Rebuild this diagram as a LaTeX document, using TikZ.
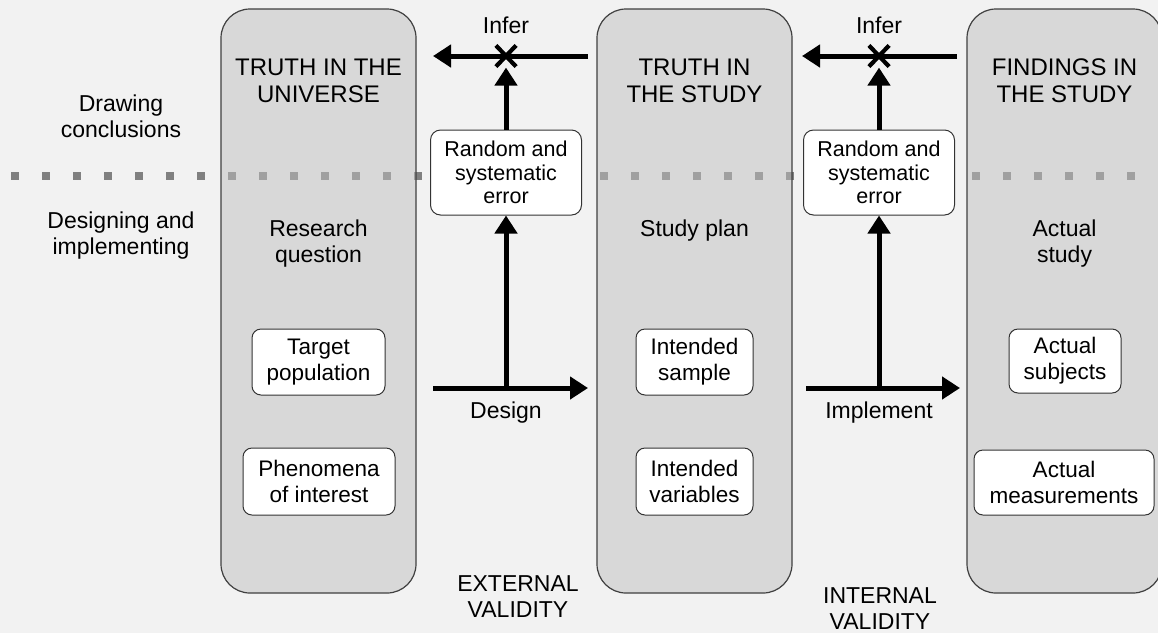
\documentclass[tikz,border=0pt]{standalone}
\usepackage{fontspec}
\setmainfont{Liberation Sans}
\usetikzlibrary{arrows.meta,shapes.misc}
\definecolor{bg}{HTML}{F2F2F2}
\definecolor{colfill}{HTML}{C0C0C0}
\definecolor{coledge}{HTML}{404040}
\definecolor{boxedge}{HTML}{333333}
\definecolor{dotc}{HTML}{808080}
\begin{document}
\begin{tikzpicture}[x=1pt,y=-1pt,
  col/.style={draw=coledge, line width=1.2pt, fill=colfill, fill opacity=0.5, draw opacity=1,
    rounded corners=29pt, minimum width=195pt, minimum height=584pt, inner sep=0pt},
  hdr/.style={font=\fontsize{24}{27}\selectfont, align=center, inner sep=0pt},
  lbl/.style={font=\fontsize{23}{26}\selectfont, align=center, inner sep=0pt},
  ibox/.style={draw=boxedge, line width=1pt, fill=white, rounded corners=9pt, align=center,
    font=\fontsize{22.5}{26}\selectfont, inner sep=0pt},
  ebox/.style={draw=boxedge, line width=1pt, fill=white, rounded corners=10pt, align=center,
    font=\fontsize{21.5}{23.5}\selectfont, inner sep=0pt, minimum width=151pt, minimum height=85pt},
  arr/.style={line width=5pt, -{Triangle[length=18pt,width=22pt]}},
  xmark/.style={cross out, draw, line width=4.2pt, minimum width=16pt, minimum height=17pt, inner sep=0pt}
]
\useasboundingbox (0,0) rectangle (1158,633);
\fill[bg] (0,0) rectangle (1158,633);
\begin{scope}
\clip (0,0) rectangle (1158,633);
% dotted divider
\coordinate (dl) at (11,176);
\coordinate (dr) at (1158,176);
\draw[dotc, line width=8pt, dash pattern=on 8pt off 23pt] (dl) -- (dr);
% columns
\node[col] (c1) at (318.5,301) {};
\node[col] (c2) at (694.5,301) {};
\node[col] (c3) at (1064.5,301) {};
\end{scope}
% headers
\node[hdr] (h1) at (318.5,81) {TRUTH IN THE\\UNIVERSE};
\node[hdr] (h2) at (694.5,81) {TRUTH IN\\THE STUDY};
\node[hdr] (h3) at (1064.5,81) {FINDINGS IN\\THE STUDY};
% side labels
\node[lbl] (dc) at (121,116) {Drawing\\conclusions};
\node[lbl] (di) at (121,236) {Designing and\\implementing};
% column subtitles
\node[lbl] (rq) at (318.5,244) {Research\\question};
\node[lbl] (sp) at (694.5,231) {Study plan};
\node[lbl] (ast) at (1064.5,244) {Actual\\study};
% inner boxes
\node[ibox, minimum width=133pt, minimum height=66pt] (tp) at (318.5,362) {Target\\population};
\node[ibox, minimum width=152pt, minimum height=67pt] (ph) at (319,481.5) {Phenomena\\of interest};
\node[ibox, minimum width=117pt, minimum height=66pt] (is) at (694.5,362) {Intended\\sample};
\node[ibox, minimum width=117pt, minimum height=67pt] (iv) at (694.5,481.5) {Intended\\variables};
\node[ibox, minimum width=112pt, minimum height=64pt] (as) at (1065,361) {Actual\\subjects};
\node[ibox, minimum width=180pt, minimum height=65pt] (am) at (1064,482.5) {Actual\\measurements};
% error boxes
\node[ebox] (e1) at (506,172.5) {Random and\\systematic\\error};
\node[ebox] (e2) at (879,172.5) {Random and\\systematic\\error};
% infer arrows
\coordinate (i1s) at (588,56);
\coordinate (i1e) at (433,56);
\coordinate (i2s) at (957,56);
\coordinate (i2e) at (802,56);
\draw[arr] (i1s) -- (i1e);
\draw[arr] (i2s) -- (i2e);
\node[xmark] (x1) at (506,56) {};
\node[xmark] (x2) at (879,56) {};
\node[lbl] (inf1) at (506,25) {Infer};
\node[lbl] (inf2) at (879,25) {Infer};
\draw[arr] (e1.north) -- ([yshift=-1pt]x1.south);
\draw[arr] (e2.north) -- ([yshift=-1pt]x2.south);
% design / implement
\coordinate (d1s) at (433,388);
\coordinate (d1e) at (588,388);
\coordinate (d1m) at (506,388);
\coordinate (d2s) at (806,388);
\coordinate (d2e) at (960,388);
\coordinate (d2m) at (879,388);
\draw[arr] (d1s) -- (d1e);
\draw[arr] (d2s) -- (d2e);
\draw[arr] (d1m) -- (e1.south);
\draw[arr] (d2m) -- (e2.south);
\node[lbl] (dg) at (506,413) {Design};
\node[lbl] (im) at (879,413) {Implement};
% validity labels
\node[lbl] (ev) at (518,597) {EXTERNAL\\VALIDITY};
\node[lbl] (iv2) at (880,609) {INTERNAL\\VALIDITY};
\end{tikzpicture}
\end{document}
